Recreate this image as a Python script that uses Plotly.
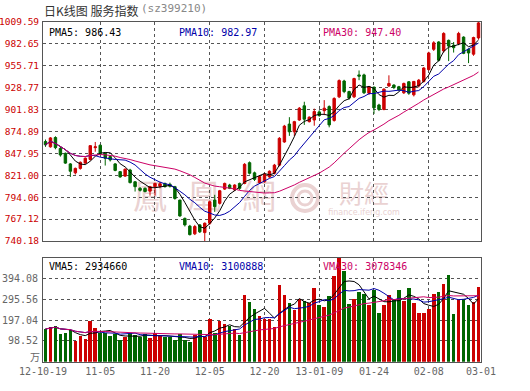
import plotly.graph_objects as go
import pandas as pd

# ---------------- data ----------------
tick_labels = ["12-10-19", "11-05", "11-20", "12-05", "12-20", "13-01-09", "01-24", "02-08", "03-01"]

opens = [862.5, 856, 867.5, 854, 848, 835, 824, 829.5, 836, 840.5,
         855, 858, 848, 844, 835, 825.5, 820, 827.5, 813, 805,
         805, 801.5, 807, 807.5, 811, 810, 807, 790.5, 768, 758.5,
         749, 760, 750.5, 762, 790.5, 786.5, 804, 809, 803, 811,
         811, 836.5, 824, 812, 813, 819, 823.5, 833.5, 862, 884,
         874.5, 889, 906.5, 887, 889, 899, 900.5, 905.5, 888.5, 917.5,
         937, 924, 917.5, 944.5, 944.5, 922, 929.5, 907.5, 902, 931,
         932, 930, 922.5, 936, 920, 931, 936.5, 951, 976, 985,
         974, 987, 981, 983, 991, 976, 970, 990]
highs = [865, 868, 869, 856, 849, 836, 830.5, 838, 843, 858,
         862, 859, 849, 845, 836, 826, 829.5, 829, 814, 806.5,
         806, 808, 812, 813, 812, 812, 808, 791, 769, 760,
         760, 761, 763, 790, 797, 803, 812, 810.5, 810, 812,
         836, 838, 825.5, 821, 824, 827, 835, 868, 883, 892.5,
         888, 905, 911.5, 893.5, 903, 901, 913.5, 907, 917, 939,
         938.5, 925, 941, 950, 946, 931, 930, 909, 928, 944,
         933, 931, 935, 937, 937, 939.5, 954, 973, 986, 986,
         997, 988, 985, 997.5, 992, 977, 991.5, 1009.59]
lows = [856, 855, 853, 844, 835, 819, 822, 828, 835, 839,
        850, 846, 833, 838, 826, 818, 819, 811, 801, 801,
        800, 796, 796, 805, 806, 806, 791, 770, 758, 747,
        747.5, 750, 740.18, 760, 776, 785, 803, 804, 802, 803,
        810, 822, 814, 811, 812, 818, 822, 832, 861, 869.5,
        869, 888, 883, 886, 882, 893, 895, 880, 887, 916,
        922, 914, 916, 938, 921, 920, 896.5, 900, 901, 929.5,
        927, 925, 921, 920, 918, 929, 935, 950, 974, 961,
        972, 961.5, 972, 981, 970, 959, 968, 988]
closes = [858.5, 867, 855, 846, 836, 826, 829.5, 837, 842, 857.5,
          856, 848, 842, 840, 827, 819, 828.5, 812, 807, 802.5,
          801, 807, 811, 810.5, 807, 807.5, 792.5, 771, 760, 748,
          758, 751.5, 762, 788.5, 782.5, 802, 811, 805, 809, 805,
          834.5, 823.5, 816, 819.5, 822.5, 826, 833.5, 866.5, 881.5, 874.5,
          887, 903.5, 890, 892.5, 899.5, 894.5, 903.5, 883, 915.5, 937.5,
          924, 916, 940, 943, 922.5, 930, 904, 902, 927, 934,
          929, 926, 934, 922, 936.5, 938, 953, 971.5, 984, 962.5,
          995.5, 980, 978, 995.5, 971, 971.5, 990.5, 1008.5]
volumes = [155, 166, 170, 131, 138, 150, 100, 122, 108, 192,
           158, 134, 134, 122, 131, 103, 119, 134, 127, 119,
           131, 111, 134, 122, 119, 119, 103, 131, 103, 94,
           127, 150, 116, 200, 134, 194, 178, 169, 155, 127,
           314, 283, 249, 217, 200, 200, 166, 361, 314, 278,
           244, 299, 288, 278, 349, 267, 260, 311, 408, 492.6,
           428, 272, 299, 330, 319, 267, 338, 231, 267, 314,
           291, 342, 288, 349, 278, 231, 231, 249, 319, 330,
           369, 413, 225, 291, 299, 267, 283, 353]

price_ticks = [740.18, 767.12, 794.06, 821.00, 847.95, 874.89, 901.83, 928.77, 955.71, 982.65, 1009.59]
volume_ticks = [98.52, 197.04, 295.56, 394.08]
volume_max = 492.60
price_ma_labels = ["PMA5: 986.43", "PMA10: 982.97", "PMA30: 947.40"]
volume_ma_labels = ["VMA5: 2934660", "VMA10: 3100888", "VMA30: 3078346"]
ma_periods = [5, 10, 30]

# ---------------- styling ----------------
W, H = 530, 391
RED = "#cc0000"
GREEN = "#006600"
MA_COLORS = ["#000000", "#0000aa", "#cc0066"]
GRID = "#555555"
FRAME = "#555555"
MONO = "DejaVu Sans Mono"
CJK = "Noto Sans CJK SC"

def px(x):
    return x / W

def py(y):
    return 1 - y / H

n = len(closes)
xs = list(range(n))
close_s = pd.Series(closes)
vol_s = pd.Series(volumes)

fig = go.Figure()

fig.add_trace(go.Candlestick(
    x=xs, open=opens, high=highs, low=lows, close=closes,
    increasing=dict(line=dict(color=RED, width=1), fillcolor=RED),
    decreasing=dict(line=dict(color=GREEN, width=1), fillcolor=GREEN),
    whiskerwidth=0, showlegend=False, hoverinfo="skip",
    xaxis="x", yaxis="y"))

for p, c in zip(ma_periods, MA_COLORS):
    fig.add_trace(go.Scatter(
        x=xs, y=close_s.rolling(p, min_periods=1).mean(), mode="lines",
        line=dict(color=c, width=1), showlegend=False, hoverinfo="skip",
        xaxis="x", yaxis="y"))

bar_colors = [RED if c >= o else GREEN for o, c in zip(opens, closes)]
fig.add_trace(go.Bar(
    x=xs, y=volumes, marker=dict(color=bar_colors, line=dict(width=0)),
    width=0.72, showlegend=False, hoverinfo="skip", xaxis="x2", yaxis="y2"))

for p, c in zip(ma_periods, MA_COLORS):
    fig.add_trace(go.Scatter(
        x=xs, y=vol_s.rolling(p, min_periods=1).mean(), mode="lines",
        line=dict(color=c, width=1), showlegend=False, hoverinfo="skip",
        xaxis="x2", yaxis="y2"))

xdom = [px(43), px(481)]
grid_idx = [11, 22, 33, 44, 55, 66, 77]
axis_common = dict(showline=True, mirror=True, linecolor=FRAME, linewidth=1,
                   showgrid=True, gridcolor=GRID, griddash="dot", gridwidth=1,
                   zeroline=False, ticks="", fixedrange=True, automargin=False)

fig.update_layout(
    width=W, height=H, margin=dict(l=0, r=0, t=0, b=0, autoexpand=False),
    paper_bgcolor="white", plot_bgcolor="white", showlegend=False,
    bargap=0,
    xaxis=dict(domain=xdom, anchor="y", range=[-0.5, n - 0.5],
               tickvals=grid_idx, showticklabels=False,
               rangeslider=dict(visible=False), **axis_common),
    yaxis=dict(domain=[py(241), py(22)], anchor="x", range=[price_ticks[0], price_ticks[-1]],
               tickvals=price_ticks, ticktext=[f"{v:.2f}" for v in price_ticks],
               tickfont=dict(family=MONO, size=9.5, color=RED), ticklabelstandoff=1,
               **axis_common),
    xaxis2=dict(domain=xdom, anchor="y2", range=[-0.5, n - 0.5],
                tickvals=[-0.5] + grid_idx + [n - 0.5], ticktext=tick_labels,
                tickfont=dict(family=MONO, size=10, color="#666666"),
                **axis_common),
    yaxis2=dict(domain=[py(361.7), py(257.7)], anchor="x2", range=[0, volume_max],
                tickvals=volume_ticks, ticktext=[f"{v:.2f}" for v in volume_ticks],
                tickfont=dict(family=MONO, size=10, color="#666666"), ticklabelstandoff=2,
                **axis_common),
)

ann = []
# title
ann.append(dict(x=px(42), y=py(0.5), xref="paper", yref="paper", xanchor="left", yanchor="top",
                align="left", text="日K线图 服务指数", showarrow=False,
                font=dict(family=CJK, size=12, color="#333333")))
ann.append(dict(x=px(139), y=py(0.5), xref="paper", yref="paper", xanchor="left", yanchor="top",
                align="left", text="(sz399210)", showarrow=False,
                font=dict(family=MONO, size=11, color="#888888")))
# MA labels
for lab, c, xl in zip(price_ma_labels, MA_COLORS, [46.5, 176.5, 321]):
    ann.append(dict(x=px(xl), y=py(32.5), xref="paper", yref="paper", xanchor="left",
                    yanchor="middle", align="left", text=lab, showarrow=False,
                    font=dict(family=MONO, size=10, color=c)))
for lab, c, xl in zip(volume_ma_labels, MA_COLORS, [46.5, 176.5, 321]):
    ann.append(dict(x=px(xl), y=py(266), xref="paper", yref="paper", xanchor="left",
                    yanchor="middle", align="left", text=lab, showarrow=False,
                    font=dict(family=MONO, size=10, color=c)))
# unit label
ann.append(dict(x=px(42), y=py(356), xref="paper", yref="paper", xanchor="right",
                yanchor="middle", align="right", text="万", showarrow=False,
                font=dict(family=CJK, size=10, color="#666666")))
fig.update_layout(annotations=ann)

# watermark (drawn below traces)
WM = "#ead2d2"
shapes = []
for ch, cx in zip(["鳳", "凰", "網"], [150, 204, 259]):
    shapes.append(dict(type="rect", xref="paper", yref="paper", layer="below",
                       x0=px(cx - 18), x1=px(cx + 18), y0=py(216), y1=py(182),
                       line=dict(width=0), fillcolor="rgba(0,0,0,0)",
                       label=dict(text=ch, font=dict(family="Noto Sans CJK TC", size=34, color=WM))))
shapes.append(dict(type="rect", xref="paper", yref="paper", layer="below",
                   x0=px(336), x1=px(392), y0=py(210), y1=py(182),
                   line=dict(width=0), fillcolor="rgba(0,0,0,0)",
                   label=dict(text="財經", font=dict(family="Noto Sans CJK TC", size=25, color=WM))))
shapes.append(dict(type="rect", xref="paper", yref="paper", layer="below",
                   x0=px(328), x1=px(400), y0=py(216), y1=py(206),
                   line=dict(width=0), fillcolor="rgba(0,0,0,0)",
                   label=dict(text="finance.ifeng.com", font=dict(family="DejaVu Sans", size=8, color=WM))))
for r, w in [(13, 4), (7, 3)]:
    shapes.append(dict(type="circle", xref="paper", yref="paper", layer="below",
                       x0=px(305 - r), x1=px(305 + r), y0=py(198 + r), y1=py(198 - r),
                       line=dict(width=w, color=WM)))
fig.update_layout(shapes=shapes)

fig.write_html("out.html", config={"displayModeBar": False, "staticPlot": True},
               post_script="document.body.style.margin='0px';document.body.style.padding='0px';")
